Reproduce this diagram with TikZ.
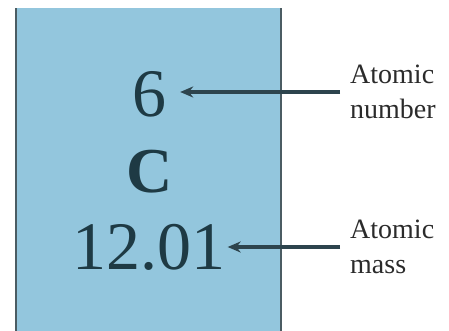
\documentclass[tikz,border=0pt]{standalone}
\usepackage{fontspec}
\setmainfont{Liberation Serif}
\usetikzlibrary{arrows.meta}
\definecolor{cellblue}{HTML}{93C6DD}
\definecolor{inkteal}{HTML}{1E3A44}
\definecolor{edgegray}{HTML}{4B5C63}
\definecolor{labelgray}{HTML}{2B2B2B}
\tikzset{
  bigtxt/.style={text=inkteal, inner ysep=0pt, anchor=base},
  lbl/.style={text=labelgray, align=left, anchor=west, inner xsep=10pt, inner ysep=0pt,
    font=\fontsize{28}{35}\selectfont},
  ptr/.style={draw=inkteal!85!gray, line width=3.2pt, -{Stealth[length=13pt,width=11pt]}}
}
\begin{document}
\begin{tikzpicture}[x=1pt,y=1pt]
\useasboundingbox (0,0) rectangle (449,331);
\fill[cellblue] (16,0) rectangle (281,323);
\draw[edgegray, line width=2.6pt] (16,0) -- (16,323);
\draw[edgegray, line width=2.6pt] (281,0) -- (281,323);
\node[bigtxt, inner xsep=14pt, font=\fontsize{68}{68}\selectfont] (six) at (149,214) {6};
\node[bigtxt, inner xsep=2pt, font=\fontsize{64}{64}\selectfont\bfseries] (sym) at (150,138) {C};
\node[bigtxt, inner xsep=2pt, font=\fontsize{68}{68}\selectfont] (mass) at (149,61) {12.01};
\node[lbl] (lnum) at (340,239) {Atomic\\number};
\node[lbl] (lmass) at (340,84) {Atomic\\mass};
\draw[ptr] (lnum.west) -- (six.east |- lnum.west);
\draw[ptr] (lmass.west) -- (mass.east |- lmass.west);
\end{tikzpicture}
\end{document}
